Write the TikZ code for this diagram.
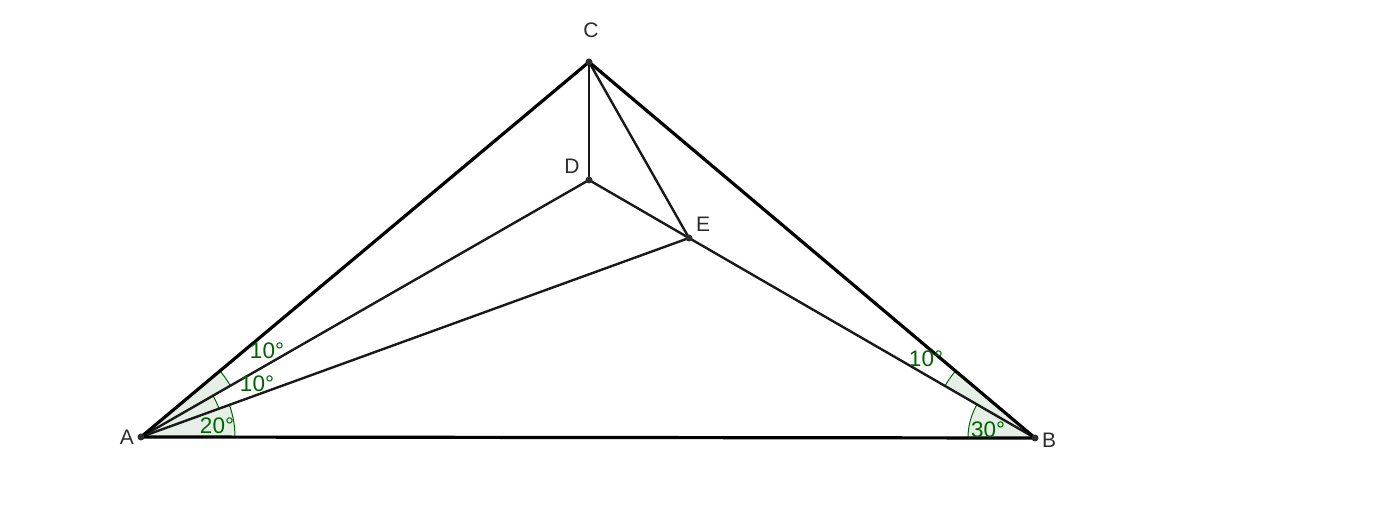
\documentclass[tikz,border=0pt]{standalone}
\usepackage{fontspec}
\setmainfont{Liberation Sans}
\usetikzlibrary{angles}
\definecolor{ggreen}{RGB}{0,100,0}
\definecolor{ptgray}{RGB}{45,45,45}
\tikzset{
  side/.style={line width=3.2pt, black},
  inner/.style={line width=2.4pt, black!90},
  ptlabel/.style={text=ptgray, font=\fontsize{21}{21}\selectfont, inner sep=0pt},
  anglabel/.style={text=ggreen, font=\fontsize{22.5}{22.5}\selectfont, inner sep=0pt},
  angsec/.style={draw=ggreen, line width=1pt, fill=ggreen, fill opacity=0.1, draw opacity=1},
  dot/.style={circle, fill=ptgray, inner sep=0pt, minimum size=7pt},
}
\begin{document}
\begin{tikzpicture}[x=1pt,y=1pt]
\useasboundingbox (0,0) rectangle (1400,530);
\coordinate (A) at (141,93);
\coordinate (B) at (1035,92);
\coordinate (C) at (589,468);
\coordinate (D) at (589,350);
\coordinate (E) at (689,292);
% angle sectors
\pic[angsec, angle radius=94pt] {angle = B--A--E};
\pic[angsec, angle radius=83pt] {angle = E--A--D};
\pic[angsec, angle radius=103pt] {angle = D--A--C};
\pic[angsec, angle radius=67pt] {angle = D--B--A};
\pic[angsec, angle radius=104pt] {angle = C--B--D};
% inner segments
\draw[inner] (C) -- (D);
\draw[inner] (A) -- (D);
\draw[inner] (D) -- (E);
\draw[inner] (E) -- (B);
\draw[inner] (A) -- (E);
\draw[inner] (C) -- (E);
% triangle sides
\draw[side] (A) -- (C);
\draw[side] (C) -- (B);
\draw[side] (A) -- (B);
% points
\foreach \p in {A,B,C,D,E} \node[dot] (dot\p) at (\p) {};
% point labels
\node[ptlabel] (lA) at (127,93) {A};
\node[ptlabel] (lB) at (1049,90) {B};
\node[ptlabel] (lC) at (591,500) {C};
\node[ptlabel] (lD) at (572,364) {D};
\node[ptlabel] (lE) at (703,306) {E};
% angle labels
\node[anglabel] (a1) at (267,179) {10°};
\node[anglabel] (a2) at (257,146) {10°};
\node[anglabel] (a3) at (217,104) {20°};
\node[anglabel] (b1) at (926,171) {10°};
\node[anglabel] (b2) at (988,100) {30°};
\end{tikzpicture}
\end{document}
